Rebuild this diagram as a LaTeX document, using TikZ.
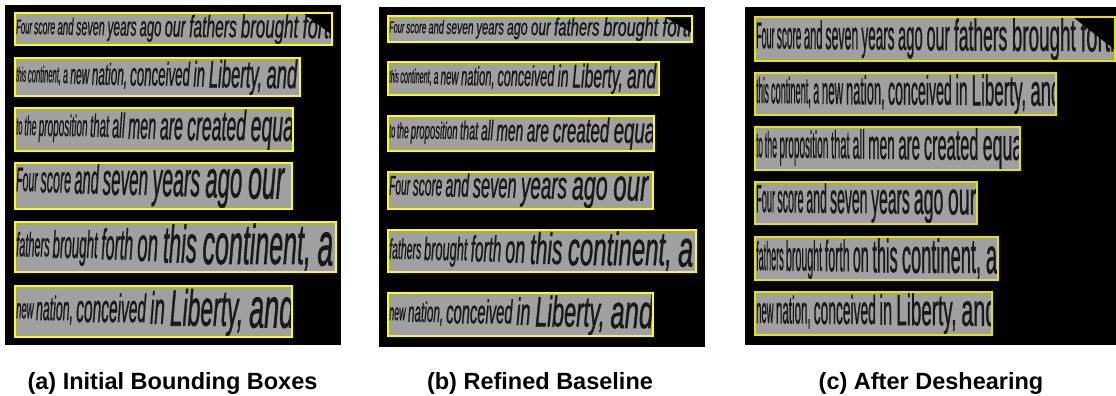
\documentclass[tikz,border=0pt]{standalone}
\usepackage{fontspec}
\setmainfont{Liberation Sans}
\newfontfamily\scanfont[FakeBold=1.3]{Liberation Sans}
\usepackage{graphicx}
\definecolor{boxgray}{RGB}{160,160,160}
\definecolor{ink}{RGB}{25,25,25}
\definecolor{hlA}{RGB}{255,255,0}
\definecolor{hlC}{RGB}{228,228,0}

% words that grow in size from left to right (perspective)
\newcommand\persp[3]{%
  \foreach \w [count=\n] in {#3} {\xdef\pnw{\n}}%
  \foreach \w [count=\i] in {#3} {%
    \pgfmathsetmacro\ptt{(\i-1)/max(\pnw-1,1)}%
    \pgfmathsetmacro\fs{10*(#1+(1-#1)*\ptt)}%
    \pgfmathsetmacro\xs{#2+(1-#2)*\ptt}%
    \pgfmathsetmacro\rsh{(10-\fs)*0.33}%
    \pgfmathsetmacro\wsp{\fs*0.26*\xs}%
    \raisebox{\rsh pt}{\scalebox{\xs}[1]{\fontsize{\fs pt}{\fs pt}\selectfont\w}}%
    \ifnum\i<\pnw\relax\hspace{\wsp pt}\fi
  }%
}

% #1 name, #2 x1, #3 y1, #4 x2, #5 y2, #6 text width, #7 size ratio, #8 shape, #9 words
\newcommand\tbox[9]{%
  \fill[boxgray] (#2,#3) rectangle (#4,#5);
  \begin{scope}
    \clip (#2,#3) rectangle (#4,#5);
    \pgfmathsetmacro\th{#5-#3-1.5}%
    \node[anchor=west, inner sep=0pt, text=ink] (#1) at ({#2+1},{(#3+#5)/2})
      {\resizebox*{#6pt}{\th pt}{\scanfont#8\persp{#7}{\rw}{#9}}};
  \end{scope}
  \draw[hlbox] (#2,#3) rectangle (#4,#5);
}

\tikzset{caption/.style={font=\bfseries\fontsize{23.5pt}{23.5pt}\selectfont, anchor=base, inner sep=0pt}}

\begin{document}
\begin{tikzpicture}[x=1pt,y=-1pt]
\useasboundingbox (0,0) rectangle (1116,396);

% panel backgrounds
\fill[black] (5,5) rectangle (341,345);
\fill[black] (379,7) rectangle (705,347);
\fill[black] (745,7) rectangle (1116,345);

% ---------- (a)
\begin{scope}[hlbox/.style={draw=hlA, line width=1.3pt}]
\def\rw{0.7}
\tbox{a1}{15}{13}{332}{45}{323}{0.6}{\itshape}{Four,score,and,seven,years,ago,our,fathers,brought,forth}
\fill[black] (303,13) -- (332,13) -- (332,35) -- cycle;
\draw[hlbox] (15,13) rectangle (332,45);
\tbox{a2}{15}{58}{300}{96}{281}{0.5}{\itshape}{this,{continent,},a,new,{nation,},conceived,in,{Liberty,},and}
\tbox{a3}{15}{108}{293}{151}{282}{0.55}{\itshape}{to,the,proposition,that,all,men,are,created,equal}
\tbox{a4}{15}{163}{292}{209}{268}{0.6}{\itshape}{Four,score,and,seven,years,ago,our}
\tbox{a5}{15}{222}{336}{272}{317}{0.55}{\itshape}{fathers,brought,forth,on,this,{continent,},a}
\tbox{a6}{15}{286}{292}{337}{278}{0.5}{\itshape}{new,{nation,},conceived,in,{Liberty,},and}
\end{scope}

% ---------- (b)
\begin{scope}[hlbox/.style={draw=hlA, line width=2.3pt}]
\def\rw{0.7}
\tbox{b1}{388}{16}{692}{42}{308}{0.6}{\itshape}{Four,score,and,seven,years,ago,our,fathers,brought,forth}
\fill[black] (663,16) -- (692,16) -- (692,33) -- cycle;
\draw[hlbox] (388,16) rectangle (692,42);
\tbox{b2}{388}{62}{659}{95}{267}{0.5}{\itshape}{this,{continent,},a,new,{nation,},conceived,in,{Liberty,},and}
\tbox{b3}{388}{116}{654}{151}{270}{0.55}{\itshape}{to,the,proposition,that,all,men,are,created,equal}
\tbox{b4}{388}{172}{653}{209}{259}{0.6}{\itshape}{Four,score,and,seven,years,ago,our}
\tbox{b5}{388}{230}{696}{272}{304}{0.55}{\itshape}{fathers,brought,forth,on,this,{continent,},a}
\tbox{b6}{388}{293}{653}{336}{264}{0.5}{\itshape}{new,{nation,},conceived,in,{Liberty,},and}
\end{scope}

% ---------- (c)
\begin{scope}[hlbox/.style={draw=hlC, line width=1.3pt}]
\def\rw{0.55}
\tbox{c1}{755}{17}{1115}{61}{365}{0.8}{\upshape}{Four,score,and,seven,years,ago,our,fathers,brought,forth}
\fill[black] (1073,17) -- (1115,17) -- (1115,50) -- cycle;
\draw[hlbox] (755,17) rectangle (1115,61);
\tbox{c2}{755}{73}{1056}{115}{305}{0.8}{\upshape}{this,{continent,},a,new,{nation,},conceived,in,{Liberty,},and}
\tbox{c3}{755}{127}{1020}{170}{270}{0.8}{\upshape}{to,the,proposition,that,all,men,are,created,equal}
\tbox{c4}{755}{182}{977}{224}{220}{0.85}{\upshape}{Four,score,and,seven,years,ago,our}
\tbox{c5}{755}{237}{998}{280}{241}{0.8}{\upshape}{fathers,brought,forth,on,this,{continent,},a}
\tbox{c6}{755}{292}{992}{335}{241}{0.8}{\upshape}{new,{nation,},conceived,in,{Liberty,},and}
\end{scope}

% captions
\node[caption] (capa) at (172.5,389) {(a) Initial Bounding Boxes};
\node[caption] (capb) at (540,389) {(b) Refined Baseline};
\node[caption] (capc) at (931,389) {(c) After Deshearing};
\end{tikzpicture}
\end{document}
